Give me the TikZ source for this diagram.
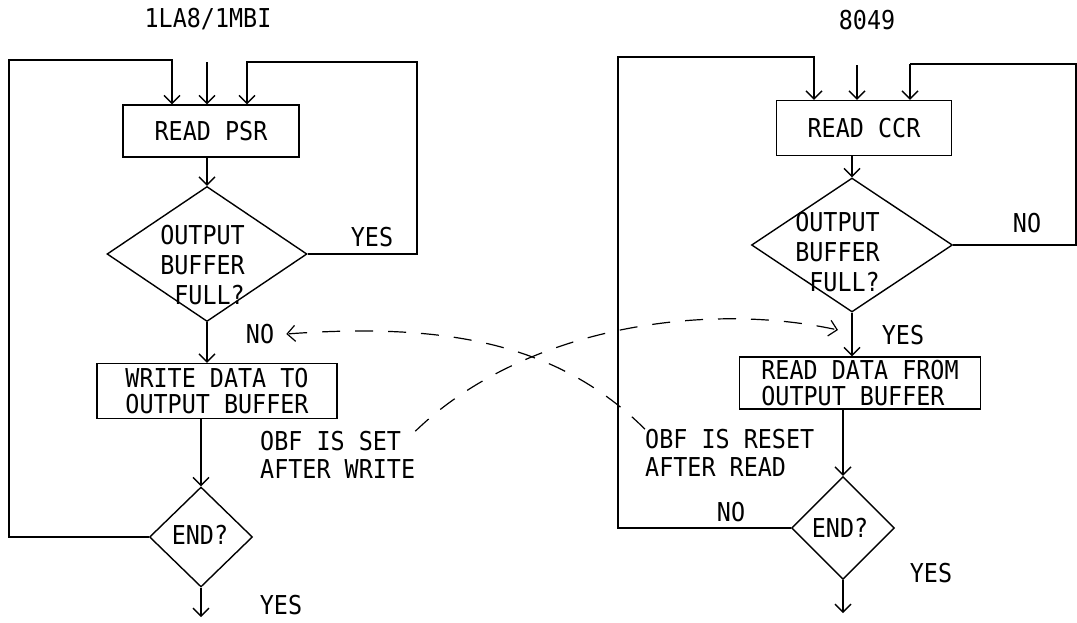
\documentclass[tikz,border=0pt]{standalone}
\usepackage{fontspec}
\setmonofont{DejaVu Sans Mono}[FakeStretch=0.9]
\usetikzlibrary{arrows.meta,shapes.geometric}

\begin{document}
\begin{tikzpicture}[
  x=1pt,y=-1pt,
  >={Straight Barb[length=8pt,width=16pt]},
  every node/.style={font=\ttfamily\fontsize{26}{26}\selectfont,inner sep=0pt},
  stepbox/.style={draw,line width=1.4pt,align=left},
  test/.style={diamond,draw,line width=1.4pt},
  word/.style={align=right,font=\ttfamily\fontsize{26}{30}\selectfont},
  note/.style={align=left,anchor=west,font=\ttfamily\fontsize{26}{28}\selectfont},
  line/.style={line width=1.4pt},
  flow/.style={->,line width=1.4pt},
  signal/.style={->,line width=1.2pt,dash pattern=on 18pt off 15pt}
]
  \useasboundingbox (0,0) rectangle (1077,622);

  % titles
  \node (titleA) at (208,19) {1LA8/1MBI};
  \node (titleB) at (867,20) {8049};

  % left chart
  \node[stepbox,minimum width=176pt,minimum height=52pt] (psr) at (211,131) {READ PSR};
  \node[test,minimum width=200pt,minimum height=135pt] (fullA) at (207,254) {};
  \node[word,anchor=east] (fullAtxt) at (245,265) {OUTPUT\\BUFFER\\FULL?};
  \node[stepbox,minimum width=240pt,minimum height=55pt] (wr) at (217,391) {WRITE DATA TO\\OUTPUT BUFFER};
  \node[test,minimum width=103pt,minimum height=100pt] (endA) at (201,537) {};
  \node (endAtxt) at (200,535) {END?};
  \coordinate (exitA) at (201,617);

  \coordinate (cornA) at (9,60);
  \coordinate (inA1) at (172,60);
  \coordinate (inA2) at (207,62);
  \coordinate (inA3) at (247,62);
  \coordinate (cornA2) at (417,62);

  \draw[flow] (endA.west) -| (cornA) -- (inA1) -- (inA1 |- psr.north);
  \draw[flow] (inA2) -- (inA2 |- psr.north);
  \draw[flow] (fullA.east) -| (cornA2) -- (inA3) -- (inA3 |- psr.north);
  \draw[flow] (psr.south -| fullA.north) -- (fullA.north);
  \draw[flow] (fullA.south) -- (fullA.south |- wr.north);
  \draw[flow] (wr.south -| endA.north) -- (endA.north);
  \draw[flow] (endA.south) -- (exitA);

  \node (yesA) at (372,237) {YES};
  \node (noA) at (260,334) {NO};
  \node (yesA2) at (281,605) {YES};
  \node[note] (noteA) at (260,455) {OBF IS SET\\AFTER WRITE};

  % right chart
  \node[stepbox,minimum width=175pt,minimum height=55pt] (ccr) at (864,128) {READ CCR};
  \node[test,minimum width=201pt,minimum height=134pt] (fullB) at (852,245) {};
  \node[word,anchor=east] (fullBtxt) at (880,252) {OUTPUT\\BUFFER\\FULL?};
  \node[stepbox,minimum width=241pt,minimum height=52pt] (rd) at (860,383) {READ DATA FROM\\OUTPUT BUFFER};
  \node[test,minimum width=103pt,minimum height=103pt] (endB) at (843,528) {};
  \node (endBtxt) at (840,528) {END?};
  \coordinate (exitB) at (843,613);

  \coordinate (cornB) at (618,57);
  \coordinate (inB1) at (814,57);
  \coordinate (inB2) at (857,65);
  \coordinate (inB3) at (910,64);
  \coordinate (cornB2) at (1076,64);

  \draw[flow] (endB.west) -| (cornB) -- (inB1) -- (inB1 |- ccr.north);
  \draw[flow] (inB2) -- (inB2 |- ccr.north);
  \draw[line] (fullB.east) -| (cornB2) -- (inB3);
  \draw[flow] (inB3) -- (inB3 |- ccr.north);
  \draw[flow] (ccr.south -| fullB.north) -- (fullB.north);
  \draw[flow] (fullB.south) -- (fullB.south |- rd.north);
  \draw[flow] (rd.south -| endB.north) -- (endB.north);
  \draw[flow] (endB.south) -- (exitB);

  \node (noB) at (1027,223) {NO};
  \node (yesB) at (903,335) {YES};
  \node (noB2) at (731,512) {NO};
  \node (yesB2) at (931,573) {YES};
  \node[note] (noteB) at (645,453) {OBF IS RESET\\AFTER READ};

  % flag signals
  \coordinate (tipB) at (838,330);
  \draw[signal] (noteA.north east) .. controls (520,330) and (700,300) .. (tipB);
  \draw[signal] (noteB.north west) .. controls (560,345) and (450,322) .. ([xshift=12pt]noA.east);
\end{tikzpicture}
\end{document}
